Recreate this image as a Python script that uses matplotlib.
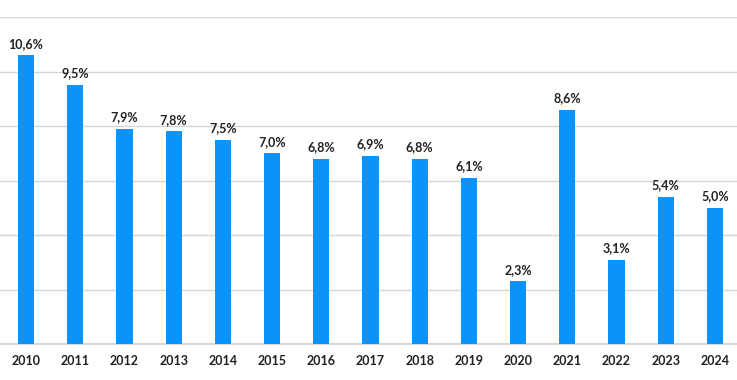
import matplotlib
matplotlib.use("Agg")
import matplotlib.pyplot as plt

years = ["2010", "2011", "2012", "2013", "2014", "2015", "2016", "2017",
         "2018", "2019", "2020", "2021", "2022", "2023", "2024"]
values = [10.6, 9.5, 7.9, 7.8, 7.5, 7.0, 6.8, 6.9, 6.8, 6.1, 2.3, 8.6, 3.1, 5.4, 5.0]
grid_ticks = [0, 2, 4, 6, 8, 10, 12]

plt.rcParams['font.family'] = ['Lato', 'DejaVu Sans']

fig = plt.figure(figsize=(7.37, 3.80), dpi=100)
ax = fig.add_axes([0, (380 - 344) / 380, 1, (344 - 17) / 380])

x = list(range(len(years)))
ax.bar(x, values, width=0.33, color="#0A93FB", zorder=3)

for xi, v in zip(x, values):
    ax.annotate(f"{v:.1f}%".replace(".", ","), (xi, v), xytext=(0, 4),
                textcoords="offset points", ha="center", va="bottom",
                fontsize=9, fontweight="bold", color="#222222")

ax.set_xlim(-26 / 49.2, 14 + 22 / 49.2)
ax.set_ylim(0, 12)
ax.set_yticks(grid_ticks)
ax.yaxis.grid(True, color="#D6D6D6", linewidth=1.0, zorder=0)
ax.tick_params(axis="y", left=False, labelleft=False)
ax.set_xticks(x)
ax.set_xticklabels(years, fontsize=9, fontweight="bold", color="#222222")
ax.tick_params(axis="x", length=0, pad=8)
for s in ["top", "right", "left"]:
    ax.spines[s].set_visible(False)
ax.spines["bottom"].set_color("#CFCFCF")
ax.spines["bottom"].set_linewidth(1.2)
ax.set_axisbelow(True)

fig.savefig("out.png", dpi=100)
